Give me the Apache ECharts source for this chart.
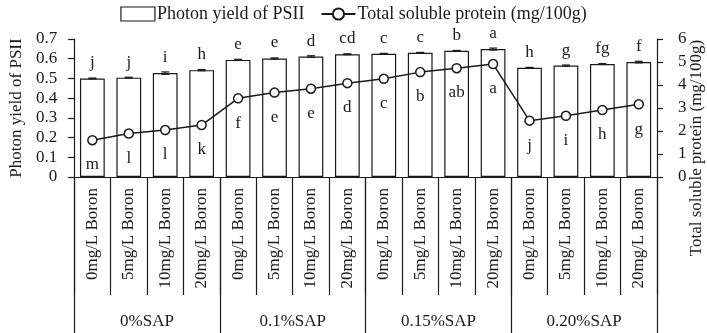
<!DOCTYPE html>
<html>
<head>
<meta charset="utf-8">
<script src="https://cdn.jsdelivr.net/npm/echarts@6/dist/echarts.min.js"></script>
<style>
  html, body { margin: 0; padding: 0; background: #fff; }
  #chart { width: 707px; height: 333px; }
</style>
</head>
<body>
<div id="chart"></div>
<script>
// treatments
const boronLevels = ['0mg/L Boron', '5mg/L Boron', '10mg/L Boron', '20mg/L Boron'];
const sapLevels = ['0%SAP', '0.1%SAP', '0.15%SAP', '0.20%SAP'];

// photon yield of PSII (left axis)
const photonYield = [0.500, 0.504, 0.527, 0.542, 0.594, 0.601, 0.611, 0.623,
                     0.625, 0.630, 0.640, 0.649, 0.554, 0.565, 0.573, 0.583];
const yieldErr = [0.002, 0.002, 0.006, 0.003, 0.003, 0.003, 0.004, 0.002,
                  0.002, 0.002, 0.002, 0.005, 0.002, 0.003, 0.002, 0.004];
const yieldLetters = ['j', 'j', 'i', 'h', 'e', 'e', 'd', 'cd',
                      'c', 'c', 'b', 'a', 'h', 'g', 'fg', 'f'];

// total soluble protein (right axis)
const protein = [1.60, 1.89, 2.04, 2.26, 3.42, 3.67, 3.84, 4.08,
                 4.27, 4.56, 4.73, 4.91, 2.45, 2.66, 2.91, 3.16];
const proteinLetters = ['m', 'l', 'l', 'k', 'f', 'e', 'e', 'd',
                        'c', 'b', 'ab', 'a', 'j', 'i', 'h', 'g'];

const leftTicks = [0, 0.1, 0.2, 0.3, 0.4, 0.5, 0.6, 0.7];
const rightTicks = [0, 1, 2, 3, 4, 5, 6];

const categories = [];
sapLevels.forEach(() => boronLevels.forEach(b => categories.push(b)));

const FONT = '"Liberation Serif", "DejaVu Serif", serif';
const INK = '#1a1a1a';
const FS = 17;

const chart = echarts.init(document.getElementById('chart'));

chart.setOption({
    animation: false,
    textStyle: { fontFamily: FONT, color: INK },
    legend: {
        top: 0,
        left: 'center',
        itemWidth: 34,
        itemHeight: 14,
        itemGap: 16,
        textStyle: { fontFamily: FONT, fontSize: 18, color: INK, padding: [0, 0, 0, -3] },
        data: [
            { name: 'Photon yield of PSII', icon: 'rect',
              itemStyle: { color: '#fff', borderColor: INK, borderWidth: 1.2 } },
            { name: 'Total soluble protein (mg/100g)' }
        ]
    },
    grid: { left: 59, right: 50, top: 39, bottom: 156 },
    xAxis: [{
        type: 'category',
        data: categories,
        axisLine: { lineStyle: { color: INK, width: 1.2 } },
        axisTick: { show: true, interval: 0, length: 118, lineStyle: { color: INK, width: 1.2 } },
        axisLabel: { interval: 0, rotate: 90, margin: 11, fontSize: FS, color: INK, fontFamily: FONT }
    }, {
        type: 'category',
        position: 'bottom',
        data: sapLevels,
        axisLine: { show: false },
        axisTick: { show: true, interval: 0, length: 157, lineStyle: { color: INK, width: 1.2 } },
        axisLabel: { interval: 0, margin: 136, fontSize: FS, color: INK, fontFamily: FONT }
    }],
    yAxis: [{
        type: 'value',
        min: leftTicks[0],
        max: leftTicks[leftTicks.length - 1],
        interval: 0.1,
        name: 'Photon yield of PSII',
        nameLocation: 'middle',
        nameGap: 42,
        nameTextStyle: { fontSize: FS, color: INK, fontFamily: FONT },
        axisLine: { show: true, lineStyle: { color: INK, width: 1.2 } },
        axisTick: { show: true, length: 6, lineStyle: { color: INK, width: 1.2 } },
        axisLabel: { margin: 17, fontSize: FS, color: INK, fontFamily: FONT,
                     formatter: v => v === 0 ? '0' : v.toFixed(1) },
        splitLine: { show: false }
    }, {
        type: 'value',
        position: 'right',
        min: rightTicks[0],
        max: rightTicks[rightTicks.length - 1],
        interval: 1,
        axisLine: { show: true, lineStyle: { color: INK, width: 1.2 } },
        axisTick: { show: true, length: 6, lineStyle: { color: INK, width: 1.2 } },
        axisLabel: { margin: 21, fontSize: FS, color: INK, fontFamily: FONT },
        splitLine: { show: false }
    }],
    graphic: [{
        type: 'text',
        x: 697,
        y: 148,
        rotation: Math.PI / 2,
        style: {
            text: 'Total soluble protein (mg/100g)',
            fontFamily: FONT, fontSize: FS, fill: INK,
            textAlign: 'center', textVerticalAlign: 'middle'
        }
    }],
    series: [{
        name: 'Photon yield of PSII',
        type: 'bar',
        data: photonYield,
        barWidth: '68%',
        itemStyle: { color: '#fff', borderColor: INK, borderWidth: 1.2 },
        label: {
            show: true, position: 'top', distance: 7,
            fontSize: FS, color: INK, fontFamily: FONT,
            formatter: p => yieldLetters[p.dataIndex]
        }
    }, {
        type: 'custom',
        name: 'err',
        z: 5,
        data: photonYield.map((v, i) => [i, v - yieldErr[i], v + yieldErr[i]]),
        renderItem: (params, api) => {
            const lo = api.coord([api.value(0), api.value(1)]);
            const hi = api.coord([api.value(0), api.value(2)]);
            const w = 4;
            return {
                type: 'group',
                children: [
                    { type: 'line', shape: { x1: hi[0], y1: hi[1], x2: lo[0], y2: lo[1] },
                      style: { stroke: INK, lineWidth: 1.2 } },
                    { type: 'line', shape: { x1: hi[0] - w, y1: hi[1], x2: hi[0] + w, y2: hi[1] },
                      style: { stroke: INK, lineWidth: 1.2 } },
                    { type: 'line', shape: { x1: lo[0] - w, y1: lo[1], x2: lo[0] + w, y2: lo[1] },
                      style: { stroke: INK, lineWidth: 1.2 } }
                ]
            };
        }
    }, {
        name: 'Total soluble protein (mg/100g)',
        type: 'line',
        yAxisIndex: 1,
        data: protein,
        symbol: 'circle',
        symbolSize: 9,
        z: 10,
        lineStyle: { color: INK, width: 1.5 },
        itemStyle: { color: '#fff', borderColor: INK, borderWidth: 1.5 },
        label: {
            show: true, position: 'bottom', distance: 11,
            fontSize: FS, color: INK, fontFamily: FONT,
            formatter: p => proteinLetters[p.dataIndex]
        }
    }]
});
</script>
</body>
</html>
